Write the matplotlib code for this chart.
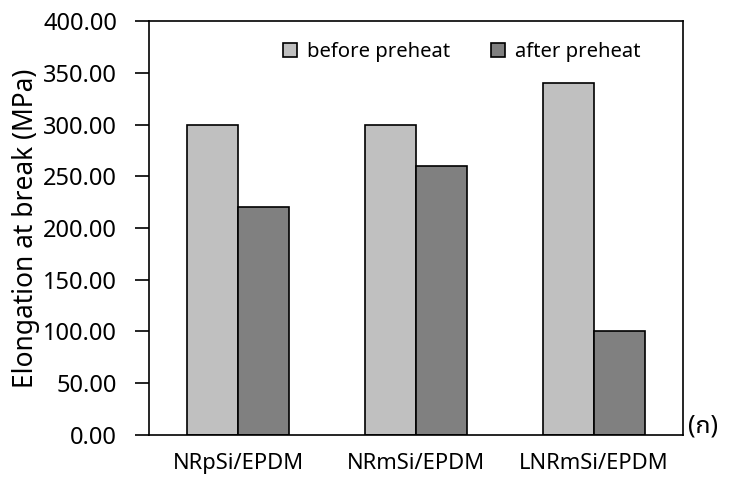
import numpy as np
import matplotlib.pyplot as plt

plt.rcParams['font.family'] = ['Noto Sans Thai UI', 'Noto Sans Thai', 'Noto Sans', 'DejaVu Sans']

categories = ['NRpSi/EPDM', 'NRmSi/EPDM', 'LNRmSi/EPDM']
before = [300, 300, 340]
after = [220, 260, 100]
yticks = np.arange(0, 401, 50)

fig = plt.figure(figsize=(7.29, 4.78), dpi=100)
ax = fig.add_axes([0.2044, 0.09, 0.7326, 0.866])

x = np.arange(len(categories))
w = 0.287
ax.bar(x - w / 2, before, w, color='#c0c0c0', edgecolor='black', linewidth=1.2, label='before preheat')
ax.bar(x + w / 2, after, w, color='#808080', edgecolor='black', linewidth=1.2, label='after preheat')

ax.set_xlim(-0.5, 2.5)
ax.set_ylim(0, 400)
ax.set_yticks(yticks)
ax.set_yticklabels(['%.2f' % v for v in yticks], fontsize=17)
ax.set_xticks(x)
ax.set_xticklabels(categories, fontsize=15.8)
ax.tick_params(axis='x', length=0, pad=13)
ax.tick_params(axis='y', length=10, width=1.2, direction='out', pad=13)
for s in ax.spines.values():
    s.set_linewidth(1.2)
ax.set_ylabel('Elongation at break (MPa)', fontsize=19, labelpad=2)

ax.legend(ncol=2, loc='center left', bbox_to_anchor=(0.251, 0.925), frameon=False, fontsize=14.6,
          handlelength=0.7, handleheight=0.7, handletextpad=0.5, columnspacing=2.0,
          borderpad=0, borderaxespad=0)

fig.text(0.944, 0.109, '(ก)', fontsize=18, va='center', ha='left')

fig.savefig('out.png', dpi=100)
